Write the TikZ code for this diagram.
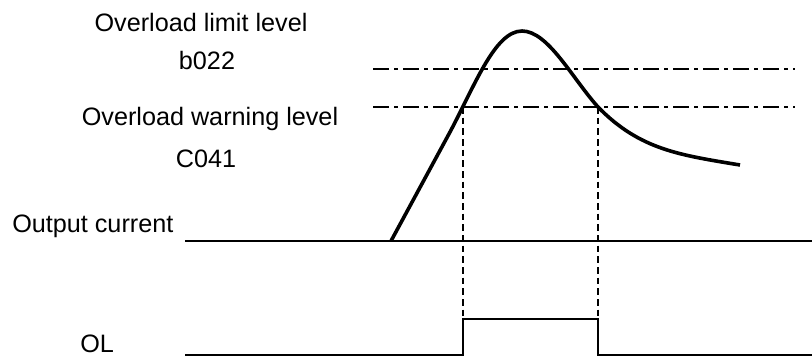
\documentclass[tikz,border=0pt]{standalone}
\usepackage{fontspec}
\setmainfont{Liberation Sans}
\begin{document}
\begin{tikzpicture}[x=0.75pt,y=-0.75pt,
  lbl/.style={inner sep=0pt,font=\fontsize{18.9}{22}\selectfont},
  axis/.style={line width=1.6pt},
  levelline/.style={line width=1.6pt,dash pattern=on 12pt off 4pt on 2.5pt off 4pt},
  guide/.style={line width=0.8pt,dash pattern=on 5pt off 3pt},
  signal/.style={line width=2.7pt,line join=round},
  pulse/.style={line width=2.1pt,line join=miter}]
\useasboundingbox (0,0) rectangle (812,358);
% labels
\node[lbl] (lim) at (201,22) {Overload limit level};
\node[lbl] (limc) at (207,60) {b022};
\node[lbl] (warn) at (210,119) {Overload warning level};
\node[lbl] (warnc) at (206,159) {C041};
\node[lbl,anchor=base west] (out) at (12,232) {Output current};
\node[lbl,anchor=base west] (ol) at (80,352) {OL};
% coordinates
\coordinate (oa) at (185,241);
\coordinate (ob) at (812,241);
\coordinate (la) at (185,355);
\coordinate (lb) at (812,355);
\coordinate (t1) at (463,107);
\coordinate (t2) at (598,107);
% axes
\draw[axis] (oa) -- (ob);
% level lines
\draw[levelline] (373,69) -- (795,69);
\draw[levelline] (373,107) -- (795,107);
% guides
\draw[guide] (t1) -- (463,319);
\draw[guide] (t2) -- (598,319);
% output current curve
\draw[signal] (391,241) -- (450,132) .. controls (475,85) and (495,31) .. (522,31)
  .. controls (548,31) and (572,78) .. (t2)
  .. controls (640,150) and (680,155) .. (740,165);
% OL signal
\draw[pulse] (la) -- (463,355) -- (463,319) -- (598,319) -- (598,355) -- (lb);
\end{tikzpicture}
\end{document}
